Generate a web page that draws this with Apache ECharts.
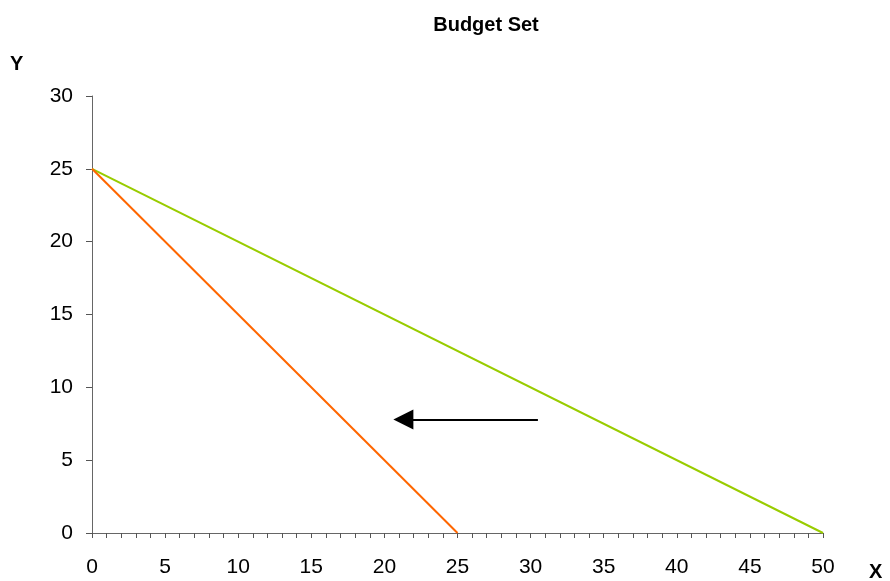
<!DOCTYPE html>
<html>
<head>
<meta charset="utf-8">
<script src="https://cdn.jsdelivr.net/npm/echarts@6/dist/echarts.min.js"></script>
<style>
html, body { margin: 0; padding: 0; background: #fff; }
#chart { width: 890px; height: 581px; }
</style>
</head>
<body>
<div id="chart"></div>
<script>
// Budget lines: original and after the price of X doubles
const originalLine = [[0, 25], [50, 0]];
const newLine = [[0, 25], [25, 0]];
// Arrow showing the budget line pivoting inwards (end point = centre of the head)
const shiftArrow = [[30.5, 7.8], [21.3, 7.8]];

const chart = echarts.init(document.getElementById('chart'));
const font = 'Arial, "Liberation Sans", sans-serif';

chart.setOption({
  backgroundColor: '#fff',
  animation: false,
  title: {
    text: 'Budget Set',
    left: 481, top: 10, textAlign: 'center',
    textStyle: { fontFamily: font, fontSize: 20, fontWeight: 'bold', color: '#000' }
  },
  graphic: [
    { type: 'text', left: 10, top: 54, style: { text: 'Y', fontFamily: font, fontSize: 20, fontWeight: 'bold', fill: '#000' } },
    { type: 'text', left: 869, top: 562, style: { text: 'X', fontFamily: font, fontSize: 20, fontWeight: 'bold', fill: '#000' } }
  ],
  grid: { left: 92, right: 67, top: 96, bottom: 48, containLabel: false },
  xAxis: {
    type: 'value', min: 0, max: 50, interval: 1,
    axisLine: { lineStyle: { color: '#666', width: 1 } },
    axisTick: { length: 5, lineStyle: { color: '#555' } },
    axisLabel: {
      margin: 24, fontFamily: font, fontSize: 21, color: '#000',
      formatter: v => (v % 5 === 0 ? String(v) : '')
    },
    splitLine: { show: false }
  },
  yAxis: {
    type: 'value', min: 0, max: 30, interval: 5,
    axisLine: { show: true, lineStyle: { color: '#666', width: 1 } },
    axisTick: { show: true, length: 6, lineStyle: { color: '#555' } },
    axisLabel: { margin: 19, fontFamily: font, fontSize: 21, color: '#000' },
    splitLine: { show: false }
  },
  series: [
    {
      type: 'line', data: originalLine, showSymbol: false,
      lineStyle: { color: '#99cc00', width: 2 }
    },
    {
      type: 'line', data: newLine, showSymbol: false,
      lineStyle: { color: '#ff6600', width: 2 }
    },
    {
      type: 'line', data: [], silent: true,
      markLine: {
        silent: true,
        symbol: ['none', 'triangle'],
        symbolSize: [20, 20],
        label: { show: false },
        lineStyle: { color: '#000', width: 2, type: 'solid' },
        data: [[{ coord: shiftArrow[0] }, { coord: shiftArrow[1] }]]
      }
    }
  ]
});
</script>
</body>
</html>
